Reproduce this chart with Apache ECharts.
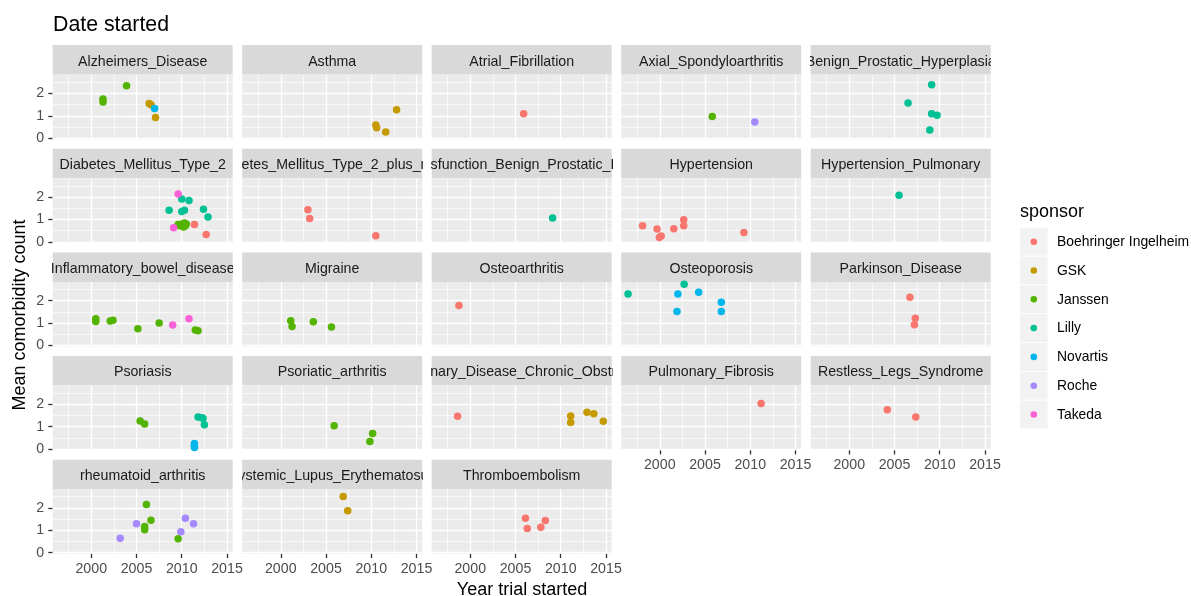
<!DOCTYPE html>
<html><head><meta charset="utf-8">
<script src="https://cdn.jsdelivr.net/npm/echarts@6/dist/echarts.min.js"></script>
<style>html,body{margin:0;padding:0;background:#fff}#c{width:1191px;height:596px}</style>
</head><body><div id="c"></div>
<script>
const sponsors = ['Boehringer Ingelheim','GSK','Janssen','Lilly','Novartis','Roche','Takeda'];
const sponsorColors = ['#F8766D','#C49A00','#53B400','#00C094','#00B6EB','#A58AFF','#FB61D7'];
const panelNames = ['Alzheimers_Disease','Asthma','Atrial_Fibrillation','Axial_Spondyloarthritis','Benign_Prostatic_Hyperplasia',
 'Diabetes_Mellitus_Type_2','Diabetes_Mellitus_Type_2_plus_renal','Erectile_Dysfunction_Benign_Prostatic_Hyperplasia','Hypertension','Hypertension_Pulmonary',
 'Inflammatory_bowel_disease','Migraine','Osteoarthritis','Osteoporosis','Parkinson_Disease',
 'Psoriasis','Psoriatic_arthritis','Pulmonary_Disease_Chronic_Obstructive','Pulmonary_Fibrosis','Restless_Legs_Syndrome',
 'rheumatoid_arthritis','Systemic_Lupus_Erythematosus','Thromboembolism'];
const xTicks = [2000, 2005, 2010, 2015];
const xMinor = [1997.5, 2002.5, 2007.5, 2012.5];
const yTicks = [0, 1, 2];
const yMinor = [0.5, 1.5, 2.5];

const alzheimersDisease = [[2001.3,1.75,'Janssen'],[2001.3,1.62,'Janssen'],[2003.9,2.34,'Janssen'],[2006.4,1.55,'GSK'],[2006.6,1.50,'GSK'],[2007.1,0.93,'GSK'],[2007.0,1.33,'Novartis']];
const asthma = [[2010.5,0.59,'GSK'],[2010.6,0.47,'GSK'],[2011.6,0.28,'GSK'],[2012.8,1.27,'GSK']];
const atrialFibrillation = [[2005.9,1.09,'Boehringer Ingelheim']];
const axialSpondyloarthritis = [[2005.8,0.97,'Janssen'],[2010.5,0.73,'Roche']];
const benignProstaticHyperplasia = [[2009.1,2.39,'Lilly'],[2006.5,1.57,'Lilly'],[2009.1,1.09,'Lilly'],[2009.7,1.03,'Lilly'],[2008.9,0.37,'Lilly']];
const diabetesType2 = [[2009.6,2.14,'Takeda'],[2009.1,0.63,'Takeda'],
 [2010.0,1.91,'Lilly'],[2010.8,1.85,'Lilly'],[2008.6,1.41,'Lilly'],[2010.0,1.35,'Lilly'],[2010.3,1.41,'Lilly'],[2012.4,1.46,'Lilly'],[2012.9,1.11,'Lilly'],
 [2009.6,0.77,'Janssen'],[2010.0,0.80,'Janssen'],[2010.3,0.84,'Janssen'],[2010.5,0.80,'Janssen'],[2010.2,0.66,'Janssen'],[2010.4,0.72,'Janssen'],[2009.8,0.72,'Janssen'],
 [2011.4,0.78,'Boehringer Ingelheim'],[2012.7,0.33,'Boehringer Ingelheim']];
const diabetesType2Plus = [[2003.0,1.43,'Boehringer Ingelheim'],[2003.2,1.04,'Boehringer Ingelheim'],[2010.5,0.27,'Boehringer Ingelheim']];
const erectileDysfunctionBph = [[2009.1,1.07,'Lilly']];
const hypertension = [[1998.1,0.72,'Boehringer Ingelheim'],[1999.7,0.57,'Boehringer Ingelheim'],[1999.96,0.20,'Boehringer Ingelheim'],[2000.16,0.26,'Boehringer Ingelheim'],[2001.55,0.59,'Boehringer Ingelheim'],[2002.65,0.99,'Boehringer Ingelheim'],[2002.65,0.72,'Boehringer Ingelheim'],[2009.3,0.42,'Boehringer Ingelheim']];
const hypertensionPulmonary = [[2005.5,2.08,'Lilly']];
const inflammatoryBowelDisease = [[2000.5,1.19,'Janssen'],[2000.5,1.07,'Janssen'],[2002.1,1.09,'Janssen'],[2002.4,1.12,'Janssen'],[2005.15,0.75,'Janssen'],[2007.5,1.0,'Janssen'],[2011.5,0.69,'Janssen'],[2011.8,0.66,'Janssen'],[2009.0,0.91,'Takeda'],[2010.8,1.19,'Takeda']];
const migraine = [[2001.1,1.10,'Janssen'],[2001.25,0.85,'Janssen'],[2003.6,1.06,'Janssen'],[2005.6,0.82,'Janssen']];
const osteoarthritis = [[1998.75,1.78,'Boehringer Ingelheim']];
const osteoporosis = [[1996.5,2.30,'Lilly'],[2002.7,2.73,'Lilly'],[2002.0,2.30,'Novartis'],[2004.3,2.37,'Novartis'],[2001.9,1.52,'Novartis'],[2006.8,1.93,'Novartis'],[2006.8,1.52,'Novartis']];
const parkinsonDisease = [[2006.7,2.15,'Boehringer Ingelheim'],[2007.3,1.22,'Boehringer Ingelheim'],[2007.2,0.93,'Boehringer Ingelheim']];
const psoriasis = [[2005.4,1.25,'Janssen'],[2005.9,1.12,'Janssen'],[2011.8,1.43,'Lilly'],[2012.2,1.40,'Lilly'],[2012.35,1.37,'Lilly'],[2012.5,1.09,'Lilly'],[2011.4,0.25,'Novartis'],[2011.4,0.15,'Novartis'],[2011.4,0.07,'Novartis']];
const psoriaticArthritis = [[2005.9,1.04,'Janssen'],[2010.15,0.70,'Janssen'],[2009.85,0.34,'Janssen']];
const copd = [[1998.6,1.46,'Boehringer Ingelheim'],[2011.1,1.48,'GSK'],[2011.1,1.18,'GSK'],[2012.9,1.64,'GSK'],[2013.65,1.58,'GSK'],[2014.7,1.24,'GSK']];
const pulmonaryFibrosis = [[2011.2,2.03,'Boehringer Ingelheim']];
const restlessLegsSyndrome = [[2004.2,1.75,'Boehringer Ingelheim'],[2007.35,1.43,'Boehringer Ingelheim']];
const rheumatoidArthritis = [[2003.2,0.64,'Roche'],[2005.0,1.29,'Roche'],[2009.9,0.93,'Roche'],[2010.4,1.54,'Roche'],[2011.3,1.29,'Roche'],[2005.9,1.17,'Janssen'],[2005.9,1.02,'Janssen'],[2006.1,2.15,'Janssen'],[2006.6,1.45,'Janssen'],[2009.6,0.62,'Janssen']];
const systemicLupus = [[2006.9,2.50,'GSK'],[2007.4,1.87,'GSK']];
const thromboembolism = [[2006.1,1.54,'Boehringer Ingelheim'],[2006.3,1.08,'Boehringer Ingelheim'],[2007.8,1.13,'Boehringer Ingelheim'],[2008.3,1.44,'Boehringer Ingelheim']];

const panelData = [alzheimersDisease, asthma, atrialFibrillation, axialSpondyloarthritis, benignProstaticHyperplasia,
 diabetesType2, diabetesType2Plus, erectileDysfunctionBph, hypertension, hypertensionPulmonary,
 inflammatoryBowelDisease, migraine, osteoarthritis, osteoporosis, parkinsonDisease,
 psoriasis, psoriaticArthritis, copd, pulmonaryFibrosis, restlessLegsSyndrome,
 rheumatoidArthritis, systemicLupus, thromboembolism];

// layout
const FONT = '"Liberation Sans", Arial, sans-serif';
const SMALL = 14.2, LEG = 13.9, MID = 18, BIG = 21.3;
const X0 = 52.7, COLSTEP = 189.5, PW = 180;
const Y0 = 74.7, ROWSTEP = 103.6, PH = 64.6, SH = 29.7;
const XMIN = 1995.74, XMAX = 2015.63, YMIN = -0.045, YMAX = 2.835;
const N = panelNames.length;

const grid = [], xAxis = [], yAxis = [], series = [];
const gridLineData = [].concat(
  xTicks.map(v => ({xAxis: v, lineStyle: {width: 1.3}})),
  xMinor.map(v => ({xAxis: v, lineStyle: {width: 0.65}})),
  yTicks.map(v => ({yAxis: v, lineStyle: {width: 1.3}})),
  yMinor.map(v => ({yAxis: v, lineStyle: {width: 0.65}}))
);
for (let i = 0; i < N; i++) {
  const r = Math.floor(i / 5), c = i % 5;
  const left = X0 + COLSTEP * c, top = Y0 + ROWSTEP * r;
  grid.push({left: left, top: top, width: PW, height: PH, show: true, backgroundColor: '#EBEBEB', borderWidth: 0, containLabel: false});
  const showX = (r === 4) || (r === 3 && c >= 3);
  const showY = c === 0;
  xAxis.push({type: 'value', gridIndex: i, min: XMIN, max: XMAX,
    axisLine: {show: false, onZero: false}, splitLine: {show: false},
    axisTick: {show: showX, customValues: xTicks, length: 4.4, lineStyle: {color: '#333333', width: 1.3}},
    axisLabel: {show: showX, customValues: xTicks, color: '#4D4D4D', fontSize: SMALL, fontFamily: FONT, margin: 8, formatter: v => String(v)}});
  yAxis.push({type: 'value', gridIndex: i, min: YMIN, max: YMAX,
    axisLine: {show: false, onZero: false}, splitLine: {show: false},
    axisTick: {show: showY, customValues: yTicks, length: 4.4, lineStyle: {color: '#333333', width: 1.3}},
    axisLabel: {show: showY, customValues: yTicks, color: '#4D4D4D', fontSize: SMALL, fontFamily: FONT, margin: 8.5, formatter: v => String(v)}});
  let first = true;
  sponsors.forEach((sp, k) => {
    const pts = panelData[i].filter(d => d[2] === sp).map(d => [d[0], d[1]]);
    if (!pts.length) return;
    const s = {type: 'scatter', name: sp, xAxisIndex: i, yAxisIndex: i, data: pts, symbolSize: 7.5,
      itemStyle: {color: sponsorColors[k], opacity: 1}, z: 3, silent: true, animation: false};
    if (first) {
      s.markLine = {silent: true, symbol: ['none', 'none'], z: 1, animation: false, label: {show: false},
        lineStyle: {color: '#FFFFFF', type: 'solid'}, emphasis: {disabled: true}, data: gridLineData};
      first = false;
    }
    series.push(s);
  });
}
// strips
for (let i = 0; i < N; i++) {
  const r = Math.floor(i / 5), c = i % 5;
  const left = X0 + COLSTEP * c, top = Y0 + ROWSTEP * r - SH;
  const gi = N + i;
  grid.push({left: left, top: top, width: PW, height: SH, show: false});
  xAxis.push({type: 'value', gridIndex: gi, min: 0, max: 1, show: false});
  yAxis.push({type: 'value', gridIndex: gi, min: 0, max: 1, show: false});
  const label = panelNames[i];
  series.push({type: 'custom', coordinateSystem: 'cartesian2d', xAxisIndex: gi, yAxisIndex: gi, clip: true, silent: true, animation: false,
    data: [[0.5, 0.5]],
    renderItem: (params, api) => {
      const cs = params.coordSys;
      return {type: 'group', children: [
        {type: 'rect', shape: {x: cs.x, y: cs.y, width: cs.width, height: cs.height}, style: {fill: '#D9D9D9'}},
        {type: 'text', x: cs.x + cs.width / 2, y: cs.y + cs.height / 2 + 1.8,
          style: {text: label, fill: '#1A1A1A', font: SMALL + 'px ' + FONT, align: 'center', verticalAlign: 'middle', textAlign: 'center', textVerticalAlign: 'middle'}}
      ]};
    }});
}

// legend drawn as graphic
const graphic = [];
graphic.push({type: 'text', x: 1020, y: 212, style: {text: 'sponsor', fill: '#000', font: MID + 'px ' + FONT, textVerticalAlign: 'middle', verticalAlign: 'middle'}});
sponsors.forEach((sp, k) => {
  const cy = 241.7 + 28.8 * k;
  graphic.push({type: 'rect', shape: {x: 1020, y: cy - 13.9, width: 27.7, height: 27.8}, style: {fill: '#F2F2F2'}});
  graphic.push({type: 'circle', shape: {cx: 1033.8, cy: cy, r: 3.3}, style: {fill: sponsorColors[k]}});
  graphic.push({type: 'text', x: 1057, y: cy + 0.5, style: {text: sp, fill: '#000', font: LEG + 'px ' + FONT, textVerticalAlign: 'middle', verticalAlign: 'middle'}});
});
graphic.push({type: 'text', x: 522, y: 590.5, style: {text: 'Year trial started', fill: '#000', font: MID + 'px ' + FONT, textAlign: 'center', align: 'center', textVerticalAlign: 'middle', verticalAlign: 'middle'}});
graphic.push({type: 'text', x: 20, y: 315, rotation: Math.PI / 2, style: {text: 'Mean comorbidity count', fill: '#000', font: MID + 'px ' + FONT, textAlign: 'center', align: 'center', textVerticalAlign: 'middle', verticalAlign: 'middle'}});
graphic.push({type: 'text', x: 53, y: 25, style: {text: 'Date started', fill: '#000', font: BIG + 'px ' + FONT, textVerticalAlign: 'middle', verticalAlign: 'middle'}});

const chart = echarts.init(document.getElementById('c'), null, {renderer: 'canvas'});
chart.setOption({
  animation: false,
  backgroundColor: '#FFFFFF',
  grid, xAxis, yAxis, series, graphic
});
</script></body></html>
